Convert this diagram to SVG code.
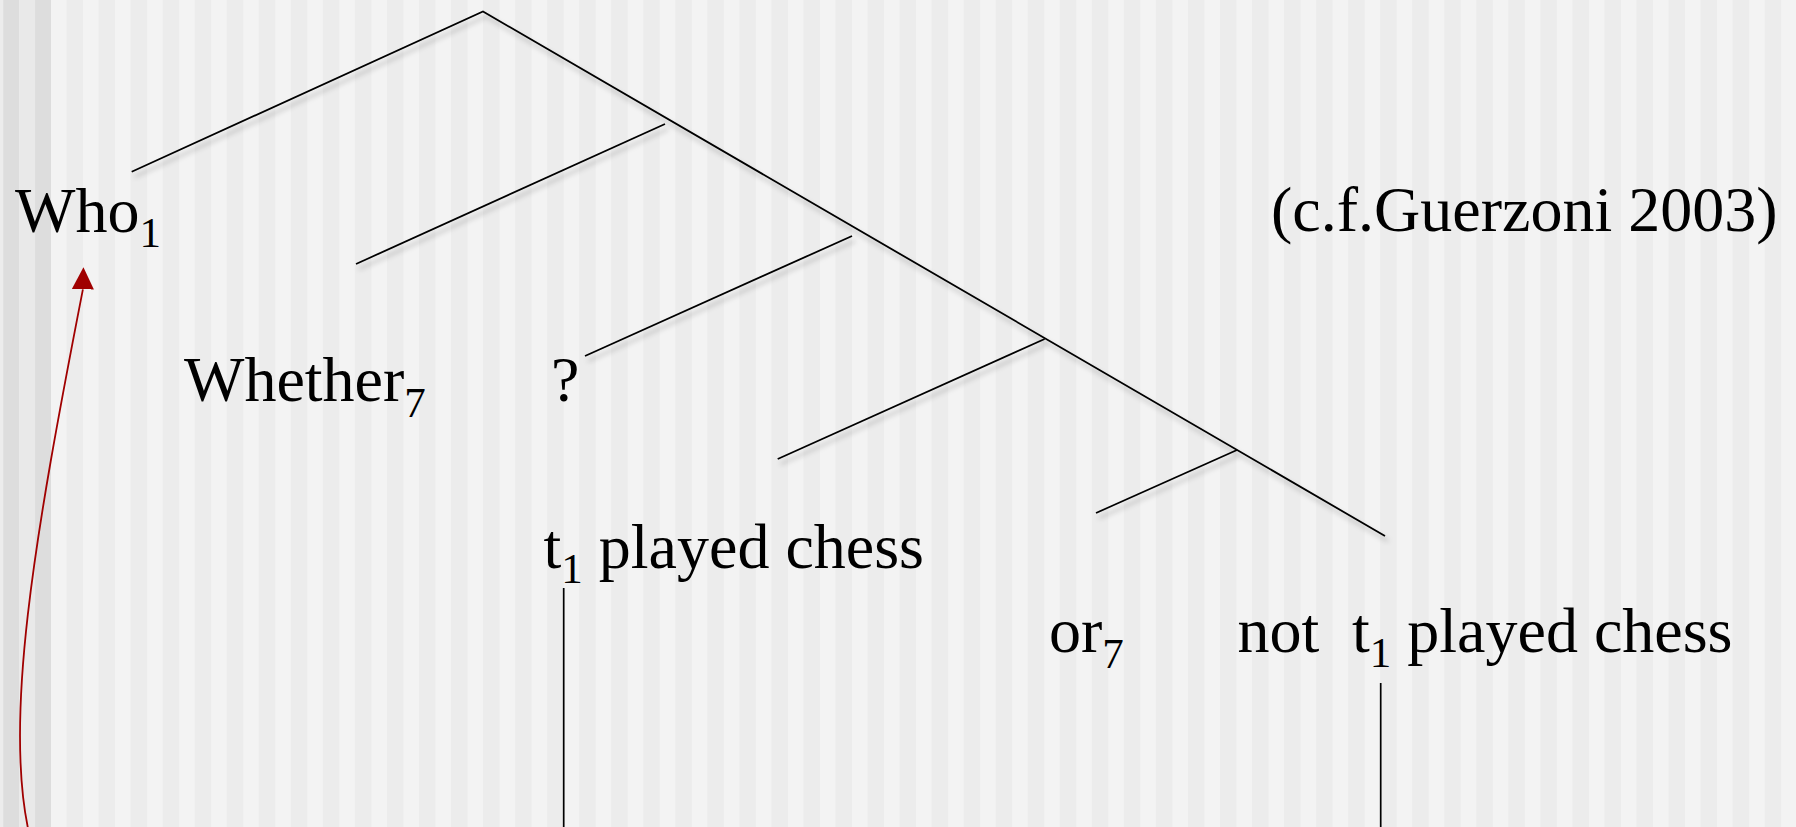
<svg xmlns="http://www.w3.org/2000/svg" width="1796" height="827" viewBox="0 0 1796 827">
<defs>
<pattern id="stripes" patternUnits="userSpaceOnUse" x="51" y="0" width="32.04" height="827">
<rect x="0" y="0" width="15.5" height="827" fill="#f3f3f3"/>
<rect x="15.5" y="0" width="16.54" height="827" fill="#ececec"/>
</pattern>
<filter id="shadow" filterUnits="userSpaceOnUse" x="0" y="0" width="1796" height="827">
<feDropShadow dx="3" dy="5" stdDeviation="2.5" flood-color="#000" flood-opacity="0.28"/>
</filter>
<marker id="arrow" markerUnits="userSpaceOnUse" markerWidth="22" markerHeight="22" viewBox="0 0 20 20" refX="0" refY="10" orient="-88.6">
<path d="M0,0 L20,10 L0,20 z" fill="#a00000"/>
</marker>
<style>
.t { font-family: "Liberation Serif", "Times New Roman", serif; font-size: 64px; fill: #000; }
.sub { font-size: 43px; }
.br { stroke: #000; stroke-width: 1.8; fill: none; stroke-linecap: butt; }
.vl { stroke: #000; stroke-width: 1.7; fill: none; }
.mv { stroke: #a00000; stroke-width: 1.8; fill: none; }
</style>
</defs>
<g id="background">
<rect x="0" y="0" width="1796" height="827" fill="url(#stripes)"/>
<rect x="0" y="0" width="3.3" height="827" fill="#ececec"/>
<rect x="3.3" y="0" width="15.9" height="827" fill="#dddddd"/>
<rect x="19.2" y="0" width="15.9" height="827" fill="#e9e9e9"/>
<rect x="35.1" y="0" width="15.9" height="827" fill="#dddddd"/>
</g>
<g id="connectors">
<g id="tree" filter="url(#shadow)">
<polyline class="br" points="131.7,171.8 483,11.5 1385,536"/>
<line class="br" x1="665" y1="124" x2="356" y2="264"/>
<line class="br" x1="852" y1="236" x2="585" y2="356"/>
<line class="br" x1="1044.6" y1="339" x2="777.7" y2="459"/>
<line class="br" x1="1237" y1="450" x2="1096" y2="513"/>
</g>
<line class="vl" x1="563.7" y1="588" x2="563.7" y2="827"/>
<line class="vl" x1="1380.7" y1="683" x2="1380.7" y2="827"/>
<path class="mv" d="M 32 845 C 0 730, 36 530, 82.9 289.3" marker-end="url(#arrow)"/>
</g>
<g id="node-who"><text class="t" x="15" y="231.7">Who<tspan class="sub" dy="15">1</tspan></text></g>
<g id="node-cite"><text class="t" x="1271" y="231">(c.f.Guerzoni 2003)</text></g>
<g id="node-whether"><text class="t" x="184" y="400.7">Whether<tspan class="sub" dy="16">7</tspan></text></g>
<g id="node-q"><text class="t" x="551" y="400.7">?</text></g>
<g id="node-t1"><text class="t" x="543.5" y="568.3">t<tspan class="sub" dy="15">1</tspan><tspan dy="-15"> played chess</tspan></text></g>
<g id="node-or"><text class="t" x="1049" y="651.7">or<tspan class="sub" dy="16">7</tspan></text></g>
<g id="node-not"><text class="t" x="1237.6" y="651.7">not</text></g>
<g id="node-t2"><text class="t" x="1352" y="651.7">t<tspan class="sub" dy="15">1</tspan><tspan dy="-15"> played chess</tspan></text></g>
</svg>
